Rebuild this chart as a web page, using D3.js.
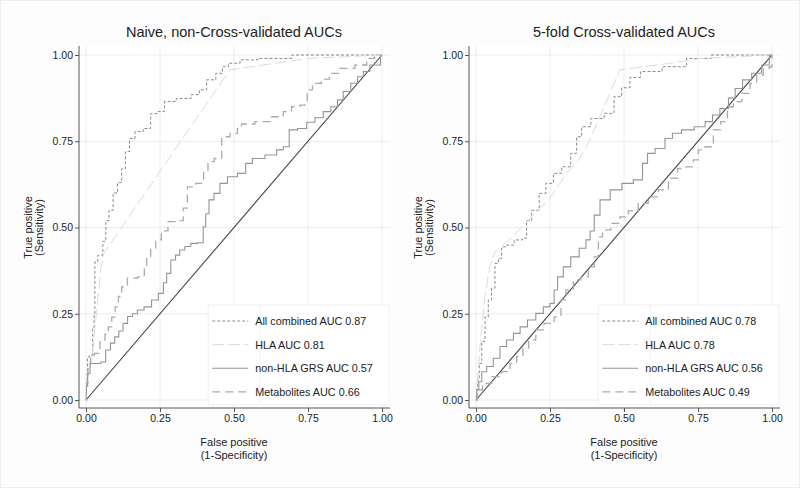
<!DOCTYPE html>
<html>
<head>
<meta charset="utf-8">
<script src="https://cdn.jsdelivr.net/npm/d3@7"></script>
<style>
  body { margin: 0; background: #fff; }
  text { font-family: "Liberation Sans", Arial, sans-serif; fill: #222; }
</style>
</head>
<body>
<div id="chart"></div>
<script>
const titles = ["Naive, non-Cross-validated AUCs", "5-fold Cross-validated AUCs"];
const seriesNames = ["All combined", "HLA", "non-HLA GRS", "Metabolites"];
const naiveAuc = [0.87, 0.81, 0.57, 0.66];
const cvAuc = [0.78, 0.78, 0.56, 0.49];
const tickValues = [0, 0.25, 0.5, 0.75, 1];

// ROC points [false positive, true positive]
const naiveAll = [[0,0],[0.003,0.04],[0.005,0.08],[0.005,0.125],[0.02,0.13],[0.025,0.21],[0.03,0.25],[0.03,0.40],[0.05,0.42],[0.064,0.46],[0.07,0.52],[0.085,0.55],[0.098,0.60],[0.115,0.63],[0.126,0.67],[0.14,0.72],[0.154,0.758],[0.177,0.778],[0.21,0.787],[0.227,0.83],[0.26,0.836],[0.27,0.865],[0.34,0.874],[0.37,0.885],[0.396,0.899],[0.419,0.928],[0.458,0.947],[0.464,0.966],[0.498,0.976],[0.543,0.986],[0.62,0.99],[0.77,1],[1,1]];
const naiveHla = [[0,0],[0.005,0.06],[0.02,0.12],[0.035,0.25],[0.05,0.38],[0.06,0.425],[0.486,0.957],[0.75,0.99],[1,1]];
const naiveGrs = [[0,0],[0.003,0.04],[0.008,0.077],[0.019,0.106],[0.042,0.106],[0.058,0.11],[0.075,0.145],[0.09,0.165],[0.104,0.183],[0.118,0.2],[0.132,0.222],[0.149,0.242],[0.165,0.25],[0.182,0.261],[0.21,0.27],[0.233,0.29],[0.256,0.309],[0.267,0.34],[0.278,0.367],[0.295,0.406],[0.31,0.42],[0.323,0.435],[0.345,0.445],[0.363,0.454],[0.39,0.456],[0.402,0.502],[0.407,0.54],[0.424,0.58],[0.441,0.599],[0.464,0.628],[0.492,0.647],[0.531,0.657],[0.548,0.686],[0.576,0.70],[0.633,0.71],[0.655,0.725],[0.678,0.734],[0.695,0.783],[0.734,0.787],[0.757,0.805],[0.79,0.818],[0.813,0.836],[0.841,0.85],[0.858,0.87],[0.88,0.894],[0.909,0.918],[0.926,0.937],[0.948,0.952],[0.97,0.971],[0.99,0.971],[1,1]];
const naiveMet = [[0,0],[0.003,0.05],[0.01,0.09],[0.02,0.13],[0.036,0.135],[0.058,0.174],[0.07,0.19],[0.081,0.212],[0.093,0.24],[0.104,0.27],[0.115,0.3],[0.126,0.328],[0.154,0.353],[0.194,0.357],[0.2,0.39],[0.21,0.415],[0.227,0.44],[0.244,0.464],[0.265,0.49],[0.289,0.517],[0.323,0.52],[0.334,0.556],[0.351,0.618],[0.39,0.628],[0.405,0.66],[0.419,0.691],[0.447,0.70],[0.47,0.763],[0.503,0.773],[0.52,0.787],[0.531,0.80],[0.61,0.807],[0.644,0.821],[0.689,0.836],[0.70,0.85],[0.745,0.855],[0.75,0.899],[0.78,0.918],[0.81,0.93],[0.835,0.947],[0.88,0.961],[0.937,0.971],[0.96,0.99],[0.99,0.995],[1,1]];

const cvAll = [[0,0],[0.004,0.03],[0.008,0.058],[0.014,0.106],[0.025,0.17],[0.036,0.241],[0.047,0.29],[0.058,0.324],[0.07,0.396],[0.081,0.41],[0.092,0.444],[0.115,0.449],[0.143,0.464],[0.171,0.469],[0.171,0.52],[0.205,0.55],[0.222,0.599],[0.25,0.628],[0.273,0.657],[0.306,0.676],[0.334,0.715],[0.346,0.763],[0.368,0.792],[0.408,0.816],[0.458,0.831],[0.475,0.879],[0.509,0.905],[0.531,0.935],[0.58,0.952],[0.678,0.966],[0.745,0.99],[0.847,1],[1,1]];
const cvHla = [[0,0],[0.005,0.06],[0.015,0.17],[0.03,0.3],[0.045,0.38],[0.064,0.43],[0.12,0.47],[0.17,0.515],[0.25,0.585],[0.306,0.657],[0.35,0.70],[0.385,0.754],[0.486,0.957],[0.655,0.976],[0.76,0.99],[1,1]];
const cvGrs = [[0,0],[0.005,0.03],[0.014,0.053],[0.025,0.082],[0.047,0.097],[0.07,0.121],[0.092,0.155],[0.115,0.174],[0.138,0.193],[0.16,0.212],[0.188,0.232],[0.216,0.251],[0.239,0.27],[0.261,0.28],[0.267,0.319],[0.284,0.357],[0.306,0.386],[0.334,0.415],[0.363,0.44],[0.38,0.464],[0.391,0.49],[0.408,0.536],[0.43,0.58],[0.477,0.609],[0.509,0.628],[0.554,0.638],[0.571,0.686],[0.588,0.715],[0.622,0.729],[0.655,0.758],[0.672,0.773],[0.717,0.783],[0.757,0.792],[0.791,0.807],[0.807,0.826],[0.841,0.845],[0.865,0.875],[0.886,0.903],[0.915,0.928],[0.948,0.947],[0.982,0.971],[1,1]];
const cvMet = [[0,0],[0.008,0.029],[0.036,0.048],[0.07,0.068],[0.104,0.082],[0.126,0.106],[0.149,0.126],[0.168,0.15],[0.188,0.174],[0.216,0.203],[0.244,0.222],[0.284,0.241],[0.29,0.29],[0.318,0.319],[0.34,0.348],[0.368,0.357],[0.391,0.386],[0.408,0.415],[0.419,0.473],[0.436,0.493],[0.475,0.512],[0.498,0.531],[0.531,0.548],[0.565,0.57],[0.599,0.589],[0.633,0.609],[0.667,0.643],[0.695,0.671],[0.723,0.676],[0.745,0.696],[0.757,0.725],[0.791,0.734],[0.813,0.783],[0.841,0.807],[0.858,0.85],[0.881,0.865],[0.915,0.889],[0.937,0.918],[0.959,0.942],[0.982,0.961],[1,0.966],[1,1]];

const lineStyles = [
  { color: "#8a8a8a", dash: "3,2", width: 1, step: true },
  { color: "#dcdcdc", dash: "12,4", width: 1, step: false },
  { color: "#959595", dash: null, width: 1.1, step: true },
  { color: "#ababab", dash: "8,5", width: 1.3, step: true }
];

const width = 800;
const height = 488;

const svg = d3.select("#chart").append("svg")
  .attr("width", width)
  .attr("height", height);

svg.append("rect")
  .attr("x", 0.5).attr("y", 0.5)
  .attr("width", width - 1).attr("height", height - 1)
  .attr("fill", "#fdfdfd")
  .attr("stroke", "#eeeeee");

const panels = [
  { title: titles[0], auc: naiveAuc, curves: [naiveAll, naiveHla, naiveGrs, naiveMet], left: 79 },
  { title: titles[1], auc: cvAuc, curves: [cvAll, cvHla, cvGrs, cvMet], left: 469 }
];

panels.forEach((p) => {
  const frame = { left: p.left, right: p.left + 311, top: 46, bottom: 408 };
  const x = d3.scaleLinear().domain([0, 1]).range([p.left + 7, p.left + 303]);
  const y = d3.scaleLinear().domain([0, 1]).range([400, 55]);

  const g = svg.append("g");

  g.append("rect")
    .attr("x", frame.left).attr("y", frame.top)
    .attr("width", frame.right - frame.left)
    .attr("height", frame.bottom - frame.top)
    .attr("fill", "#ffffff");

  // grid
  g.selectAll(".vgrid").data(tickValues).enter().append("line")
    .attr("x1", (d) => x(d)).attr("x2", (d) => x(d))
    .attr("y1", frame.top).attr("y2", frame.bottom)
    .attr("stroke", "#ececec").attr("stroke-width", 1);
  g.selectAll(".hgrid").data(tickValues).enter().append("line")
    .attr("y1", (d) => y(d)).attr("y2", (d) => y(d))
    .attr("x1", frame.left).attr("x2", frame.right)
    .attr("stroke", "#ececec").attr("stroke-width", 1);

  // diagonal reference
  g.append("line")
    .attr("x1", x(0)).attr("y1", y(0))
    .attr("x2", x(1)).attr("y2", y(1))
    .attr("stroke", "#444").attr("stroke-width", 1.1);

  p.curves.forEach((c, i) => {
    const s = lineStyles[i];
    const line = d3.line()
      .x((d) => x(d[0]))
      .y((d) => y(d[1]))
      .curve(s.step ? d3.curveStep : d3.curveLinear);
    g.append("path")
      .datum(c)
      .attr("d", line)
      .attr("fill", "none")
      .attr("stroke", s.color)
      .attr("stroke-width", s.width)
      .attr("stroke-dasharray", s.dash);
  });

  // axes
  const xAxis = g.append("g")
    .attr("transform", `translate(0,${frame.bottom})`)
    .call(d3.axisBottom(x).tickValues(tickValues).tickFormat(d3.format(".2f")).tickSize(4).tickPadding(3));
  const yAxis = g.append("g")
    .attr("transform", `translate(${frame.left},0)`)
    .call(d3.axisLeft(y).tickValues(tickValues).tickFormat(d3.format(".2f")).tickSize(4).tickPadding(2));
  [xAxis, yAxis].forEach((a) => {
    a.select(".domain").remove();
    a.selectAll(".tick line").attr("stroke", "#555");
    a.selectAll(".tick text").attr("fill", "#333").style("font-size", "10.5px")
      .style("font-family", "'Liberation Sans', Arial, sans-serif");
  });

  g.append("line")
    .attr("x1", frame.left).attr("x2", frame.right)
    .attr("y1", frame.bottom).attr("y2", frame.bottom)
    .attr("stroke", "#555");
  g.append("line")
    .attr("x1", frame.left).attr("x2", frame.left)
    .attr("y1", frame.top).attr("y2", frame.bottom)
    .attr("stroke", "#555");

  // titles
  g.append("text")
    .attr("x", x(0.5)).attr("y", 37)
    .attr("text-anchor", "middle")
    .style("font-size", "14.5px")
    .text(p.title);

  g.append("text")
    .attr("x", x(0.5)).attr("y", 446)
    .attr("text-anchor", "middle")
    .style("font-size", "11px")
    .text("False positive");
  g.append("text")
    .attr("x", x(0.5)).attr("y", 459)
    .attr("text-anchor", "middle")
    .style("font-size", "11px")
    .text("(1-Specificity)");

  const yt = g.append("text")
    .attr("transform", `translate(${frame.left - 47},${y(0.5)}) rotate(-90)`)
    .attr("text-anchor", "middle")
    .style("font-size", "11px");
  yt.append("tspan").attr("x", 0).attr("dy", 0).text("True positive");
  yt.append("tspan").attr("x", 0).attr("dy", 11).text("(Sensitivity)");

  // legend
  const lg = g.append("g");
  const lx = x(0.413);
  lg.append("rect")
    .attr("x", lx).attr("y", 305)
    .attr("width", frame.right - lx - 1).attr("height", 100)
    .attr("fill", "#ffffff")
    .attr("stroke", "#f0f0f0");
  lg.append("line")
    .attr("x1", lx + 52).attr("x2", lx + 52)
    .attr("y1", 305).attr("y2", 405)
    .attr("stroke", "#f2f2f2");
  seriesNames.forEach((name, i) => {
    const s = lineStyles[i];
    const ly = 321 + i * 23.6;
    lg.append("line")
      .attr("x1", lx + 4).attr("x2", lx + 40)
      .attr("y1", ly).attr("y2", ly)
      .attr("stroke", s.color)
      .attr("stroke-width", s.width)
      .attr("stroke-dasharray", s.dash);
    lg.append("text")
      .attr("x", lx + 47).attr("y", ly + 4)
      .style("font-size", "10.8px")
      .text(`${name} AUC ${p.auc[i].toFixed(2)}`);
  });
});
</script>
</body>
</html>
